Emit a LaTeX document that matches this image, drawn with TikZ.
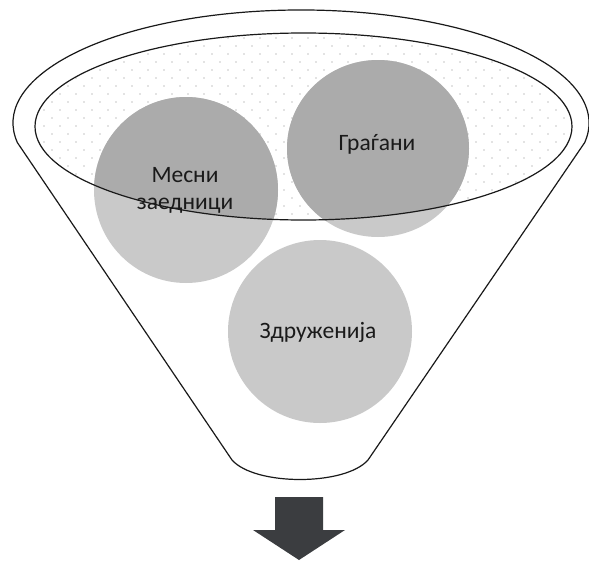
\documentclass[tikz,border=0pt]{standalone}
\usepackage{fontspec}
\setmainfont{Carlito}
\definecolor{circdark}{HTML}{ABABAB}
\definecolor{circlight}{HTML}{C9C9C9}
\definecolor{arrowgray}{HTML}{3B3D40}
\definecolor{textgray}{HTML}{1A1A1A}
\definecolor{dotgray}{HTML}{8A8A8A}
\begin{document}
\begin{tikzpicture}[x=1pt,y=-1pt,
  outline/.style={draw=black!90, line width=1.2pt, line join=round},
  dotmark/.style={fill=dotgray},
  lighttone/.style={fill=circlight},
  darktone/.style={fill=circdark},
  lbl/.style={font=\fontsize{23.5}{27}\selectfont, text=textgray, align=center, inner sep=0pt},
  arrowfill/.style={fill=arrowgray}]
\useasboundingbox (0,0) rectangle (589,560);
% inner (dotted) ellipse
\fill[white] (303.5,126.5) ellipse [x radius=268.5, y radius=93.5];
\begin{scope}
  \clip (303.5,126.5) ellipse [x radius=268.5, y radius=93.5];
  \foreach \r in {0,...,25} {
    \foreach \c in {0,...,35} {
      \pgfmathsetmacro{\dx}{\c*16 + mod(\r,2)*8 + 28}
      \pgfmathsetmacro{\dy}{\r*8 + 30}
      \path[dotmark] (\dx,\dy) circle [radius=0.65];
    }
  }
\end{scope}
% circles, light tone
\path[lighttone] (186,190) ellipse [x radius=92, y radius=93];
\path[lighttone] (378,148.5) ellipse [x radius=91, y radius=88.5];
\path[lighttone] (320,331.5) ellipse [x radius=92, y radius=91.5];
% dark tone inside the inner ellipse
\begin{scope}
  \clip (303.5,126.5) ellipse [x radius=268.5, y radius=93.5];
  \path[darktone] (186,190) ellipse [x radius=92, y radius=93];
  \path[darktone] (378,148.5) ellipse [x radius=91, y radius=88.5];
\end{scope}
% inner ellipse outline
\draw[outline] (303.5,126.5) ellipse [x radius=268.5, y radius=93.5];
% funnel outline
\draw[outline] (17.4,142.6) arc [start angle=170, end angle=370, x radius=288, y radius=113]
  -- (368,460) .. controls (345,486) and (255,486) .. (232,460) -- cycle;
% labels
\node[lbl] (m) at (185,190.5) {Месни\\заедници};
\node[lbl] (g) at (377,144) {Граѓани};
\node[lbl] (z) at (318,332) {Здруженија};
% arrow
\path[arrowfill] (275,497) -- (323,497) -- (323,530) -- (345,530) -- (299,560) -- (253,530) -- (275,530) -- cycle;
\end{tikzpicture}
\end{document}
